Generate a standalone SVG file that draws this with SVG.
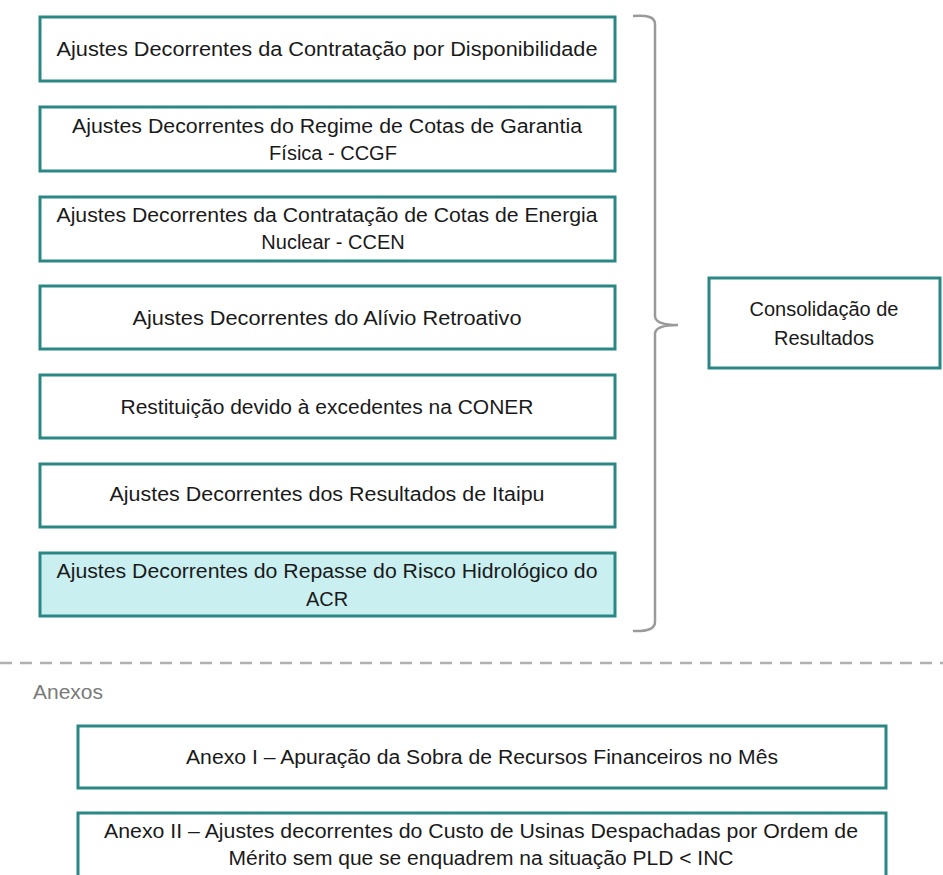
<svg xmlns="http://www.w3.org/2000/svg" width="943" height="875" viewBox="0 0 943 875">
<style>
.box{fill:#ffffff;stroke:#2b8784;stroke-width:3}
.hl{fill:#c9eff1}
.t{font-family:"Liberation Sans",Arial,sans-serif;font-size:20px;fill:#1a1a1a;text-anchor:middle}
.lbl{font-family:"Liberation Sans",Arial,sans-serif;font-size:21px;fill:#7a7a7a}
</style>
<rect width="943" height="875" fill="#ffffff"/>
<g id="n1"><rect class="box" x="40" y="17" width="575" height="64"/><text class="t" x="327" y="56" textLength="541" lengthAdjust="spacingAndGlyphs">Ajustes Decorrentes da Contratação por Disponibilidade</text></g>
<g id="n2"><rect class="box" x="40" y="107" width="575" height="64"/><text class="t" x="327" y="133" textLength="510" lengthAdjust="spacingAndGlyphs">Ajustes Decorrentes do Regime de Cotas de Garantia</text><text class="t" x="333" y="160">Física - CCGF</text></g>
<g id="n3"><rect class="box" x="40" y="197" width="575" height="64"/><text class="t" x="327" y="222" textLength="541" lengthAdjust="spacingAndGlyphs">Ajustes Decorrentes da Contratação de Cotas de Energia</text><text class="t" x="333" y="249">Nuclear - CCEN</text></g>
<g id="n4"><rect class="box" x="40" y="286" width="575" height="63"/><text class="t" x="327" y="325" textLength="389" lengthAdjust="spacingAndGlyphs">Ajustes Decorrentes do Alívio Retroativo</text></g>
<g id="n5"><rect class="box" x="40" y="375" width="575" height="63"/><text class="t" x="327" y="414" textLength="413" lengthAdjust="spacingAndGlyphs">Restituição devido à excedentes na CONER</text></g>
<g id="n6"><rect class="box" x="40" y="464" width="575" height="63"/><text class="t" x="327" y="501" textLength="435" lengthAdjust="spacingAndGlyphs">Ajustes Decorrentes dos Resultados de Itaipu</text></g>
<g id="n7"><rect class="box hl" x="40" y="553" width="575" height="63"/><text class="t" x="327" y="578" textLength="541" lengthAdjust="spacingAndGlyphs">Ajustes Decorrentes do Repasse do Risco Hidrológico do</text><text class="t" x="327" y="606">ACR</text></g>
<g id="n8"><rect class="box" x="709" y="278" width="231" height="90"/><text class="t" x="824" y="316">Consolidação de</text><text class="t" x="824" y="345">Resultados</text></g>
<g id="connectors"><path d="M633,16 Q655,14 655,24 L655,316 Q655,325 678,325 Q655,325 655,334 L655,622 Q655,632 633,631" fill="none" stroke="#9a9a9a" stroke-width="2.5"/></g>
<line x1="0" y1="663" x2="943" y2="663" stroke="#b0b0b0" stroke-width="2.5" stroke-dasharray="12,8"/>
<text class="lbl" x="33" y="699">Anexos</text>
<g id="n9"><rect class="box" x="78" y="726" width="808" height="62"/><text class="t" x="482" y="764" textLength="592" lengthAdjust="spacingAndGlyphs">Anexo I – Apuração da Sobra de Recursos Financeiros no Mês</text></g>
<g id="n10"><rect class="box" x="78" y="813" width="808" height="70"/><text class="t" x="481" y="838" textLength="754" lengthAdjust="spacingAndGlyphs">Anexo II – Ajustes decorrentes do Custo de Usinas Despachadas por Ordem de</text><text class="t" x="481" y="865" textLength="505" lengthAdjust="spacingAndGlyphs">Mérito sem que se enquadrem na situação PLD &lt; INC</text></g>
</svg>
